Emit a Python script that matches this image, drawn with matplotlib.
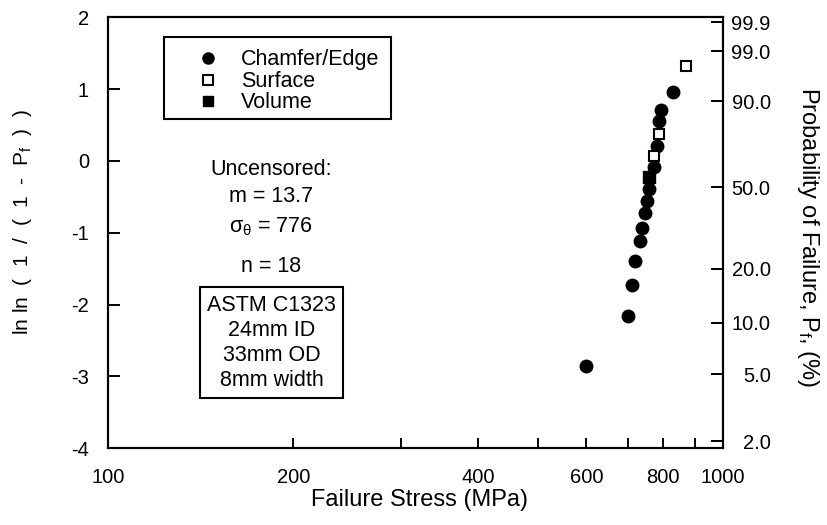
import numpy as np
import matplotlib
matplotlib.use("Agg")
import matplotlib.pyplot as plt
from matplotlib.patches import Rectangle

plt.rcParams['font.family'] = ['Liberation Sans', 'DejaVu Sans']
plt.rcParams['mathtext.fontset'] = 'custom'
plt.rcParams['mathtext.rm'] = 'Liberation Sans'
plt.rcParams['mathtext.it'] = 'Liberation Sans'
plt.rcParams['mathtext.default'] = 'regular'

# failure stress (MPa) vs ln ln(1/(1-Pf))
stress_chamfer = [600, 700, 713, 719, 733, 739, 746, 753, 760, 774, 781, 788, 794, 831]
lnln_chamfer = [-2.86, -2.16, -1.73, -1.39, -1.12, -0.93, -0.72, -0.56, -0.39, -0.08, 0.21, 0.55, 0.71, 0.96]
stress_surface = [773, 788, 871]
lnln_surface = [0.07, 0.38, 1.32]
stress_volume = [760]
lnln_volume = [-0.22]

x_major = [100, 200, 400, 600, 800, 1000]
x_minor = [300, 500, 700, 900]
y_left = [-4, -3, -2, -1, 0, 1, 2]
prob_pct = [2.0, 5.0, 10.0, 20.0, 50.0, 90.0, 99.0, 99.9]

legend_labels = ["Chamfer/Edge", "Surface", "Volume"]
stats_lines = ["Uncensored:", "m = 13.7", r"$\sigma_\theta$ = 776", "n = 18"]
specimen_lines = ["ASTM C1323", "24mm ID", "33mm OD", "8mm width"]

fig = plt.figure(figsize=(8.27, 5.25), dpi=100)
ax = fig.add_axes([0.131, 0.1461, 0.7429, 0.8210])

ax.plot(stress_chamfer, lnln_chamfer, 'o', color='black', ms=9, mec='black')
ax.plot(stress_surface, lnln_surface, 's', mfc='white', mec='black', mew=1.5, ms=7.5)
ax.plot(stress_volume, lnln_volume, 's', color='black', ms=8.5)

ax.set_xscale('log')
ax.set_xlim(100, 1000)
ax.set_ylim(-4, 2)
ax.set_xticks(x_major)
ax.set_xticklabels([str(v) for v in x_major])
ax.set_xticks(x_minor, minor=True)
ax.xaxis.set_minor_formatter(plt.NullFormatter())
ax.set_yticks(y_left)
ax.set_yticklabels([str(v) for v in y_left])

ax.tick_params(axis='both', which='both', direction='in', width=1.4, labelsize=14.5,
               top=False, right=False)
ax.tick_params(axis='x', which='both', length=7.5, pad=14.5)
ax.tick_params(axis='y', length=8.5, pad=14)
for s in ax.spines.values():
    s.set_linewidth(1.5)

ax.set_xlabel("Failure Stress (MPa)", fontsize=17, va='center')
ax.xaxis.set_label_coords(0.5057, -0.12)
ax.set_ylabel("ln ln  (  1  /  (  1  -  P$_f$  )  )", fontsize=15, va='center')
ax.yaxis.set_label_coords(-0.140, 0.525)

# right axis: probability of failure
ax2 = ax.twinx()
ax2.set_ylim(-4, 2)
p = np.array(prob_pct) / 100.0
ax2.set_yticks(np.log(-np.log(1 - p)))
ax2.set_yticklabels(["%.1f" % v for v in prob_pct])
ax2.tick_params(axis='y', direction='in', length=8.5, width=1.4, labelsize=14.5, pad=34.5)
for lbl in ax2.get_yticklabels():
    lbl.set_horizontalalignment('right')
for s in ax2.spines.values():
    s.set_linewidth(1.5)
ax2.set_ylabel("Probability of Failure, P$_f$, (%)", fontsize=17, rotation=270, va='center')
ax2.yaxis.set_label_coords(1.139, 0.49)

# legend box drawn by hand so the rows sit tight like the original
ax.add_patch(Rectangle((0.0907, 0.7632), 0.3697, 0.1915, transform=ax.transAxes,
                       fill=False, lw=1.5, ec='black', clip_on=False))
leg_y = [0.9047, 0.8537, 0.8059]
leg_base = [0.8893, 0.8390, 0.7889]
ax.plot(0.1623, leg_y[0], 'o', color='black', ms=8, transform=ax.transAxes, clip_on=False)
ax.plot(0.1623, leg_y[1], 's', mfc='white', mec='black', mew=1.5, ms=6.5,
        transform=ax.transAxes, clip_on=False)
ax.plot(0.1623, leg_y[2], 's', color='black', ms=7.5, transform=ax.transAxes, clip_on=False)
for lab, yb in zip(legend_labels, leg_base):
    ax.text(0.2155, yb, lab, fontsize=15.5, ha='left', va='baseline', transform=ax.transAxes)

stats_base = [0.634, 0.572, 0.502, 0.410]
for t, yb in zip(stats_lines, stats_base):
    ax.text(0.265, yb, t, fontsize=15.5, ha='center', va='baseline', transform=ax.transAxes)

ax.add_patch(Rectangle((0.1492, 0.1169), 0.2327, 0.2573, transform=ax.transAxes,
                       fill=False, lw=1.5, ec='black'))
spec_base = [0.3186, 0.2606, 0.2026, 0.1446]
for t, yb in zip(specimen_lines, spec_base):
    ax.text(0.2655, yb, t, fontsize=15.5, ha='center', va='baseline', transform=ax.transAxes)

fig.savefig("out.png", dpi=100)
